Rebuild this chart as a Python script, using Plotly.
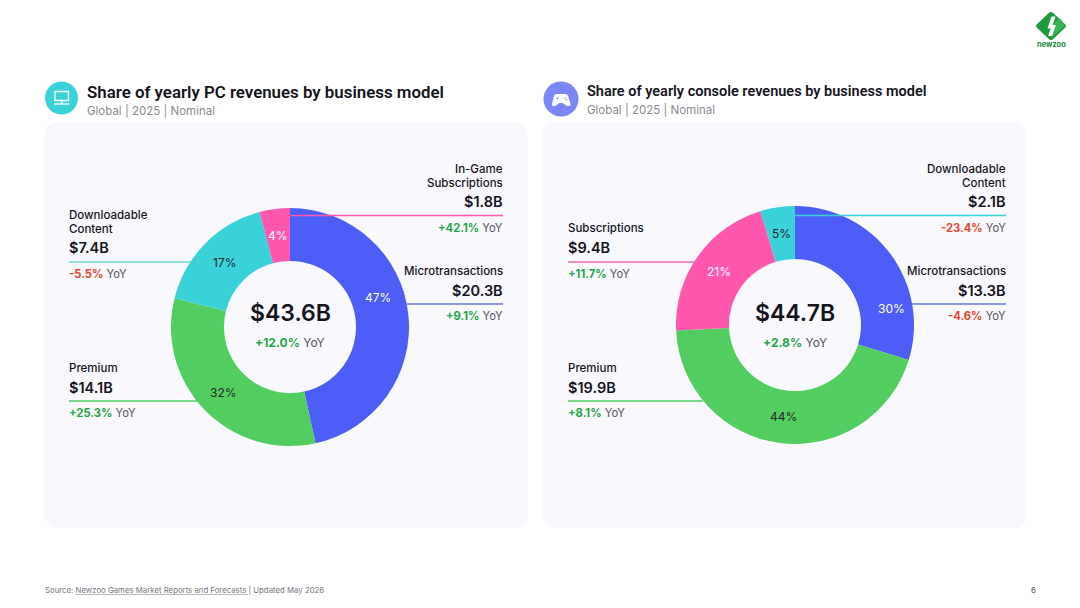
import plotly.graph_objects as go

W, H = 1080, 608
FONT = "Inter"
HEAD_FONT = "Roboto"
INK = "#14141c"
GREY = "#8a8a92"
UP = "#1fa64a"
DOWN = "#f0402a"

BLUE = "#4c5ef7"
GREEN = "#52ce60"
TEAL = "#38d2d8"
PINK = "#ff57ae"
CARD = "#f9f8fc"

# PC revenues by business model, in $B, clockwise from twelve o'clock
pc_models = ["Microtransactions", "Premium", "Downloadable Content", "In-Game Subscriptions"]
pc_revenue = [20.3, 14.1, 7.4, 1.8]
pc_share = ["47%", "32%", "17%", "4%"]
pc_yoy = ["+9.1%", "+25.3%", "-5.5%", "+42.1%"]
pc_colors = [BLUE, GREEN, TEAL, PINK]
pc_total = "$43.6B"
pc_total_yoy = "+12.0%"

# Console revenues by business model, in $B
console_models = ["Microtransactions", "Premium", "Subscriptions", "Downloadable Content"]
console_revenue = [13.3, 19.9, 9.4, 2.1]
console_share = ["30%", "44%", "21%", "5%"]
console_yoy = ["-4.6%", "+8.1%", "+11.7%", "-23.4%"]
console_colors = [BLUE, GREEN, PINK, TEAL]
console_total = "$44.7B"
console_total_yoy = "+2.8%"


def px(x):
    return x / W


def py(y):
    return 1 - y / H


annotations = []
shapes = []


def label(x, y, text, size, color=INK, anchor="left", weight=400, family=FONT):
    # annotation boxes carry a one pixel border inset, taken back out here
    nudge = {"left": -1, "right": 1, "center": 0}[anchor]
    annotations.append(dict(
        x=px(x + nudge), y=py(y), xref="paper", yref="paper", text=text, showarrow=False,
        xanchor=anchor, yanchor="middle", align=anchor,
        font=dict(family=family, size=size, color=color, weight=weight),
        borderpad=0,
    ))


def line(x0, y0, x1, y1, color, width=1.6):
    shapes.append(dict(type="line", xref="paper", yref="paper",
                       x0=px(x0), y0=py(y0), x1=px(x1), y1=py(y1),
                       line=dict(color=color, width=width)))


def rounded_poly(points, r, fill, layer="above"):
    # closed polygon whose corners are cut with quadratic curves of radius r
    n = len(points)
    parts = []
    for i in range(n):
        x, y = points[i]
        ax, ay = points[i - 1]
        bx, by = points[(i + 1) % n]
        la = ((ax - x) ** 2 + (ay - y) ** 2) ** 0.5
        lb = ((bx - x) ** 2 + (by - y) ** 2) ** 0.5
        sx, sy = x + (ax - x) * r / la, y + (ay - y) * r / la
        ex, ey = x + (bx - x) * r / lb, y + (by - y) * r / lb
        parts.append(f"{'M' if i == 0 else 'L'} {px(sx)} {py(sy)} Q {px(x)} {py(y)} {px(ex)} {py(ey)}")
    shapes.append(dict(type="path", xref="paper", yref="paper", path=" ".join(parts) + " Z",
                       fillcolor=fill, line=dict(width=0), layer=layer))


def disc(cx, cy, r, fill):
    shapes.append(dict(type="circle", xref="paper", yref="paper",
                       x0=px(cx - r), x1=px(cx + r), y0=py(cy - r), y1=py(cy + r),
                       fillcolor=fill, line=dict(width=0)))


def yoy_text(value):
    color = UP if value.startswith("+") else DOWN
    return f'<b><span style="color:{color}">{value}</span></b> <span style="color:#55555c">YoY</span>'


def callout(x, anchor, name_lines, name_y, value, value_y, yoy, yoy_y):
    for i, part in enumerate(name_lines):
        label(x, name_y + i * 13.5, part, 11.5, anchor=anchor, weight=500)
    label(x, value_y, value, 14.5, anchor=anchor, weight=600)
    label(x, yoy_y, yoy_text(yoy), 11.2, anchor=anchor)


def donut(values, names, colors, cx, cy, r):
    return go.Pie(
        values=values, labels=names, sort=False, direction="clockwise", rotation=0,
        hole=0.555, textinfo="none", showlegend=False, hoverinfo="label+value",
        marker=dict(colors=colors, line=dict(width=0)),
        domain=dict(x=[px(cx - r), px(cx + r)], y=[py(cy + r), py(cy - r)]),
    )


fig = go.Figure()
fig.add_trace(donut(pc_revenue, pc_models, pc_colors, 290, 327, 119))
fig.add_trace(donut(console_revenue, console_models, console_colors, 795, 325, 119))

# Cards behind each donut
rounded_poly([(44, 122), (528, 122), (528, 528), (44, 528)], 16, CARD, "below")
rounded_poly([(543, 122), (1026, 122), (1026, 528), (543, 528)], 12, CARD, "below")

# Panel headers: monitor icon
disc(61.5, 98, 16.5, TEAL)
shapes.append(dict(type="rect", xref="paper", yref="paper", x0=px(55), x1=px(68.5), y0=py(91.5), y1=py(100.5),
                   line=dict(color="white", width=1.3)))
line(54, 104, 69.5, 104, "white", 1.3)
line(61.7, 100.5, 61.7, 104, "white", 1.3)
label(87, 92, "Share of yearly PC revenues by business model", 16.85, weight=600, family=HEAD_FONT)
label(87, 111, "Global | 2025 | Nominal", 11.5, GREY)

# Panel headers: gamepad icon
disc(561, 99, 17.5, "#7c87f7")
rounded_poly([(554.5, 94), (567.5, 94), (571, 106), (565.5, 106), (564, 103), (558, 103), (556.5, 106), (551.5, 106)],
             2, "white")
disc(557.5, 98.5, 1, "#7c87f7")
disc(565, 98, 0.8, "#7c87f7")
disc(566.5, 100, 0.8, "#7c87f7")
label(587, 91, "Share of yearly console revenues by business model", 14.5, weight=600, family=HEAD_FONT)
label(587, 110, "Global | 2025 | Nominal", 11.5, GREY)

# PC callouts
callout(503, "right", ["In-Game", "Subscriptions"], 169, "$1.8B", 201, pc_yoy[3], 228)
line(290, 215.5, 503, 215.5, PINK)
callout(503, "right", ["Microtransactions"], 271, "$20.3B", 290, pc_yoy[0], 316)
line(407, 304, 503, 304, "#6a78d8")
callout(69, "left", ["Downloadable", "Content"], 215, "$7.4B", 247, pc_yoy[2], 274)
line(69, 262, 190, 262, "#6fd6da")
callout(69, "left", ["Premium"], 368, "$14.1B", 387, pc_yoy[1], 413)
line(69, 401, 197, 401, GREEN)

# Console callouts
callout(1006, "right", ["Downloadable", "Content"], 169, "$2.1B", 201, console_yoy[3], 228)
line(795, 215.5, 1006, 215.5, TEAL)
callout(1006, "right", ["Microtransactions"], 271, "$13.3B", 290, console_yoy[0], 316)
line(912, 304, 1006, 304, "#6a78d8")
callout(568, "left", ["Subscriptions"], 228, "$9.4B", 247, console_yoy[2], 274)
line(568, 262, 695, 262, "#ee6cb4")
callout(568, "left", ["Premium"], 368, "$19.9B", 387, console_yoy[1], 413)
line(568, 401, 703, 401, GREEN)

# Percentage labels on the rings
for pos, text, col in [((378, 297), pc_share[0], "white"), ((223, 392), pc_share[1], "#26262c"),
                       ((224, 262), pc_share[2], "#26262c"), ((278, 235), pc_share[3], "white")]:
    label(pos[0], pos[1], text, 12, col, anchor="center")
for pos, text, col in [((891, 308), console_share[0], "white"), ((783, 416), console_share[1], "#26262c"),
                       ((719, 271), console_share[2], "white"), ((781, 233), console_share[3], "#26262c")]:
    label(pos[0], pos[1], text, 12, col, anchor="center")

# Totals in the donut holes
label(290, 313, pc_total, 23, INK, "center", weight=600)
label(290, 342, yoy_text(pc_total_yoy), 12, anchor="center")
label(794.5, 313, console_total, 23, INK, "center", weight=600)
label(795, 342, yoy_text(console_total_yoy), 12, anchor="center")

# Footer
label(44.5, 590, "Source: Newzoo Games Market Reports and Forecasts | Updated May 2026", 7.8, "#77777f")
line(75.5, 594.5, 248, 594.5, "#9a9aa2", 0.7)
label(1033, 590, "6", 8, "#55555c", "center")

# Brand mark
rounded_poly([(1051, 11), (1067, 26), (1051, 41), (1035, 26)], 3, "#1c9a3c")
rounded_poly([(1051, 26), (1060, 18), (1065, 26), (1051, 38)], 1, "#3cb455")
rounded_poly([(1051.5, 16.5), (1055.5, 16.5), (1051.5, 28.5), (1047.5, 28.5)], 0.5, "white")
rounded_poly([(1052, 25), (1056, 25), (1052, 36), (1048, 36)], 0.5, "white")
label(1051.5, 44, "<b>newzoo</b>", 7.5, "#1c8a3c", "center")

fig.update_layout(
    width=W, height=H, margin=dict(l=0, r=0, t=0, b=0, pad=0),
    paper_bgcolor="white", plot_bgcolor="white",
    annotations=annotations, shapes=shapes,
    font=dict(family=FONT),
)
fig.write_html("out.html")
